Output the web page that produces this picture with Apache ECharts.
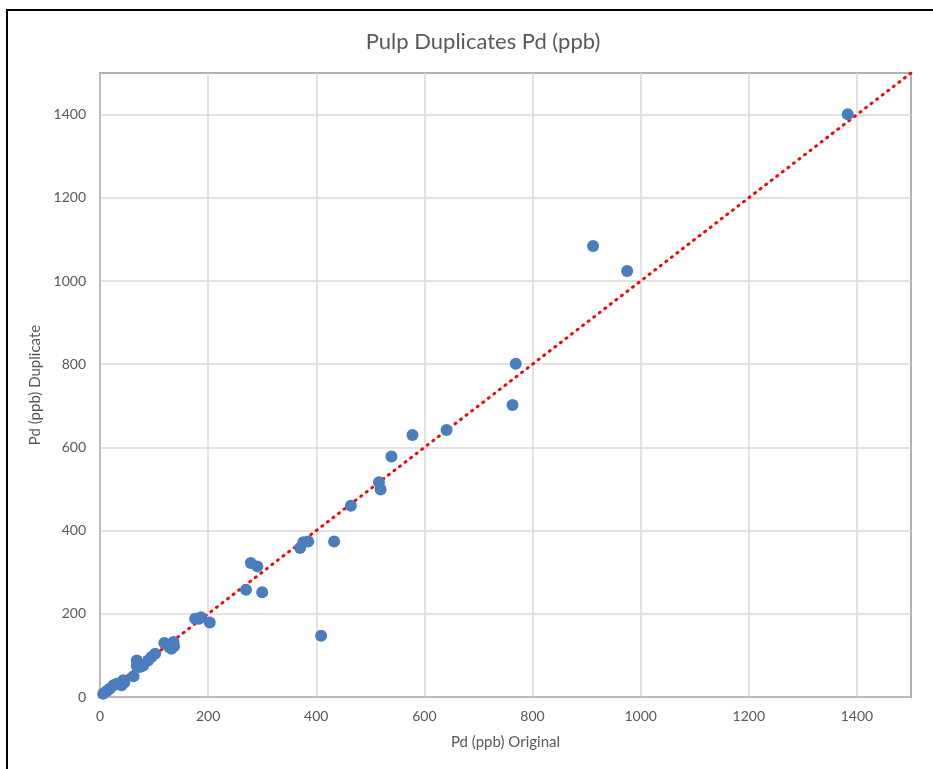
<!DOCTYPE html>
<html>
<head>
<meta charset="utf-8">
<script src="https://cdn.jsdelivr.net/npm/echarts@6/dist/echarts.min.js"></script>
<style>
html,body{margin:0;padding:0;background:#fff;}
#chart{width:933px;height:769px;}
</style>
</head>
<body>
<div id="chart"></div>
<script>
const original = [1383, 912, 975, 769, 763, 641, 578, 539, 516, 519, 464, 433, 370, 376, 385, 279, 291, 270, 300, 409,
  203, 176, 187, 183, 119, 136, 132, 137, 128, 102, 95, 89, 68, 74, 80, 68, 62, 45, 40, 43, 31, 25, 18, 12, 6];
const duplicate = [1401, 1084, 1024, 801, 702, 642, 630, 578, 516, 499, 460, 374, 358, 372, 374, 322, 314, 258, 252, 147,
  179, 188, 192, 188, 130, 132, 116, 122, 120, 104, 96, 88, 88, 72, 76, 76, 50, 35, 28, 40, 32, 28, 20, 14, 8];
const trendX = [0, 1500];
const trendY = [0, 1500];

const chart = echarts.init(document.getElementById('chart'));
const font = 'Lato, "Open Sans", sans-serif';
const plain = v => String(v);
chart.setOption({
  backgroundColor: '#fff',
  animation: false,
  title: {
    text: 'Pulp Duplicates Pd (ppb)',
    left: 478, top: 26, textAlign: 'center',
    textStyle: { fontFamily: font, fontSize: 22, fontWeight: 'normal', color: '#595959' }
  },
  graphic: [{
    type: 'rect', silent: true,
    shape: { x: 7, y: 10, width: 1000, height: 1000 },
    style: { fill: 'none', stroke: '#000', lineWidth: 2 }
  }],
  grid: { left: 100, right: 22, top: 73, bottom: 72, show: true, borderColor: '#000', borderWidth: 1.5 },
  xAxis: {
    type: 'value', min: 0, max: 1500, interval: 200,
    name: 'Pd (ppb) Original', nameLocation: 'middle', nameGap: 38,
    nameTextStyle: { fontFamily: font, fontSize: 15, color: '#595959' },
    axisLine: { show: true, lineStyle: { color: '#bfbfbf', width: 1.5 } },
    axisTick: { show: false },
    axisLabel: { formatter: plain, showMaxLabel: false, margin: 12, fontFamily: font, fontSize: 14, color: '#595959' },
    splitLine: { lineStyle: { color: '#d9d9d9', width: 1.5 } }
  },
  yAxis: {
    type: 'value', min: 0, max: 1500, interval: 200,
    name: 'Pd (ppb) Duplicate', nameLocation: 'middle', nameGap: 47,
    nameTextStyle: { fontFamily: font, fontSize: 15, color: '#595959' },
    axisLine: { show: true, lineStyle: { color: '#bfbfbf', width: 1.5 } },
    axisTick: { show: false },
    axisLabel: { formatter: plain, showMaxLabel: false, margin: 14, fontFamily: font, fontSize: 14, color: '#595959' },
    splitLine: { lineStyle: { color: '#d9d9d9', width: 1.5 } }
  },
  series: [{
    type: 'line',
    data: trendX.map((x, i) => [x, trendY[i]]),
    showSymbol: false, symbol: 'none',
    lineStyle: { color: '#ff0000', width: 3, type: [1, 6], cap: 'round' },
    z: 2
  }, {
    type: 'scatter',
    data: original.map((x, i) => [x, duplicate[i]]),
    symbol: 'circle', symbolSize: 12,
    itemStyle: { color: '#4a7dbd', opacity: 1 },
    z: 3
  }]
});
</script>
</body>
</html>
